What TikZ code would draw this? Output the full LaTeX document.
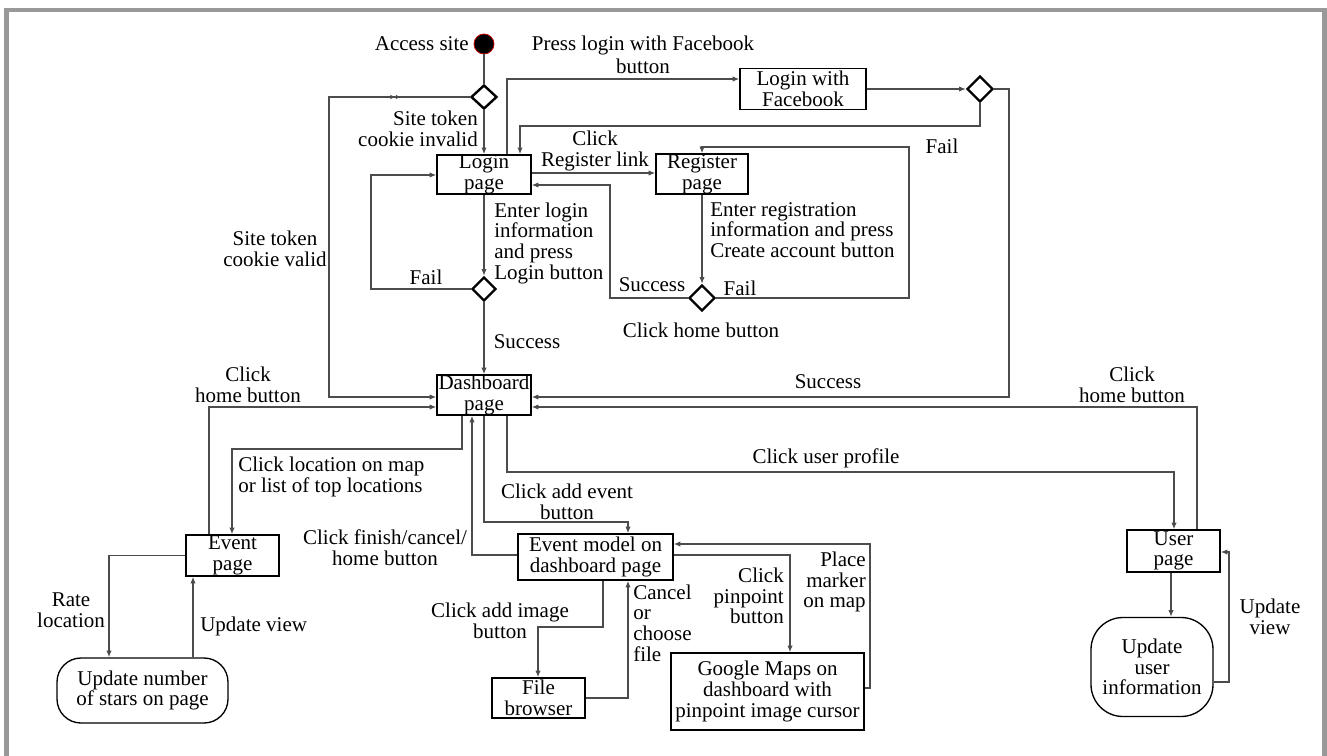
\documentclass[tikz,border=0pt]{standalone}
\usepackage{fontspec}
\setmainfont{Liberation Serif}
\usetikzlibrary{arrows.meta,shapes.geometric,decorations.markings,calc}
\begin{document}
\begin{tikzpicture}[x=0.75pt,y=-0.75pt,
  every node/.style={font=\fontsize{15.75pt}{15.5pt}\selectfont},
  sz/.style 2 args={minimum width=#1*0.75pt,minimum height=#2*0.75pt},
  box/.style={draw=black, line width=1pt, inner sep=0pt, align=center, fill=white},
  dec/.style={diamond, aspect=1, draw=black, line width=1.8pt, inner sep=0pt, fill=white},
  conn/.style={draw=black!70, line width=1.1pt},
  arr/.style={conn, -{Latex[length=5pt,width=4pt]}},
  lbl/.style={inner sep=0pt, align=center},
  lblL/.style={inner sep=0pt, align=left, anchor=west},
  lblR/.style={inner sep=0pt, align=right, anchor=east},
  frame/.style={fill=black!40, draw=none}
]
\useasboundingbox (0,0) rectangle (1327,756);
% frame
\fill[frame] (4,8) rectangle (1327,12);
\fill[frame] (4,8) rectangle (9,756);
\fill[frame] (1322,8) rectangle (1327,756);

% nodes
\node[circle, fill=black, draw=red!75!black, line width=0.6pt, minimum size=15pt, inner sep=0pt] (start) at (484,44) {};
\node[dec, sz={26}{24}] (d1) at (484,97) {};
\node[box, sz={94}{39}] (login) at (484,174.5) {Login\\page};
\node[box, sz={92}{40}] (reg) at (702,174) {Register\\page};
\node[box, sz={126}{41}] (fb) at (803,89) {Login with\\Facebook};
\node[dec, sz={26}{26}] (dfb) at (980,89) {};
\node[dec, sz={24}{24}] (dlogin) at (484,289) {};
\node[dec, sz={26}{26}] (dreg) at (702,298) {};
\node[box, sz={94}{40}] (dash) at (484,395) {Dashboard\\page};
\node[box, sz={93}{41}] (event) at (232.5,555.5) {Event\\page};
\node[box, sz={155}{46}] (evm) at (595.5,557) {Event model on\\dashboard page};
\node[box, sz={93}{40}] (file) at (538.5,698) {File\\browser};
\node[box, sz={193}{77}] (gm) at (767.5,691.5) {Google Maps on\\dashboard with\\pinpoint image cursor};
\node[box, sz={93}{42}] (user) at (1173.5,551) {User\\page};
\node[box, sz={171}{65}, rounded corners=18pt] (stars) at (142.5,690.5) {Update number\\of stars on page};
\node[box, sz={122}{99}, rounded corners=24pt] (uinfo) at (1152,667) {Update\\user\\information};

% labels
\node[lblR] (tAccess) at (469,44) {Access site};
\node[lbl] (tFbPress) at (643,55) {Press login with Facebook\\[1.5pt]button};
\node[lblR] (tInvalid) at (478,129) {Site token\\cookie invalid};
\node[lbl] (tValid) at (275,249) {Site token\\cookie valid};
\node[lbl] (tRegLink) at (595,151) {Click\\Register link};
\node[lbl] (tFbFail) at (942,146) {Fail};
\node[lblL] (tEnterLogin) at (494,243) {Enter login\\information\\and press\\Login button};
\node[lbl] (tLoginFail) at (426,277) {Fail};
\node[lbl] (tLoginOk) at (527,342) {Success};
\node[lblL] (tEnterReg) at (710,230) {Enter registration\\information and press\\Create account button};
\node[lbl] (tRegOk) at (652,285) {Success};
\node[lbl] (tRegFail) at (740,288) {Fail};
\node[lbl] (tHomeReg) at (701,330) {Click home button};
\node[lbl] (tFbOk) at (828,382) {Success};
\node[lbl] (tHomeEv) at (248,385) {Click\\home button};
\node[lblL] (tLoc) at (238,477) {Click location on map\\or list of top locations};
\node[lbl] (tFinish) at (385,548) {Click finish/cancel/\\home button};
\node[lbl] (tAddEv) at (567,502) {Click add event\\button};
\node[lbl] (tProfile) at (826,458) {Click user profile};
\node[lbl] (tAddImg) at (500,621) {Click add image\\button};
\node[lblL, align=left] (tCancel) at (633,623) {Cancel\\or\\choose\\file};
\node[lblR] (tPin) at (784,596) {Click\\pinpoint\\button};
\node[lblR] (tPlace) at (866,582) {Place\\marker\\on map};
\node[lbl] (tHomeUser) at (1132,385) {Click\\home button};
\node[lbl] (tUpdUser) at (1270,617) {Update\\view};
\node[lbl] (tRate) at (71,610) {Rate\\location};
\node[lblL] (tUpdStars) at (200,626) {Update view};

% connectors
\draw[conn] (start.south) -- (d1.north);
\draw[arr, postaction={decorate, decoration={markings,
    mark=at position 52pt with {\arrowreversed{Latex[length=3.5pt,width=3.5pt]}},
    mark=at position 56pt with {\arrowreversed{Latex[length=3.5pt,width=3.5pt]}}}}]
  (d1.west) -| (329,397) -- (dash.west |- 0,397);
\draw[arr] (d1.south) -- (login.north);
\draw[arr] (507,0 |- login.north) |- (fb.west |- 0,79);
\draw[arr] (fb.east) -- (dfb.west);
\draw[arr] (dfb.south) |- (520,126) -- (520,0 |- login.north);
\draw[arr] (dfb.east) -| (1009,397) -- (dash.east |- 0,397);
\draw[arr] (login.east |- 0,173) -- (reg.west |- 0,173);
\draw[arr] (dreg.west) -| (610,185) -- (login.east |- 0,185);
\draw[arr] (reg.south) -- (dreg.north);
\draw[arr] (dreg.east) -| (909,147) -| (reg.north);
\draw[arr] (login.south) -- (dlogin.north);
\draw[arr] (dlogin.west) -| (371,175) -- (login.west |- 0,175);
\draw[arr] (dlogin.south) -- (dash.north);
\draw[arr] (462,0 |- dash.south) |- (232,449) -- (232,0 |- event.north);
\draw[arr] (209,0 |- event.north) |- (dash.west |- 0,407);
\draw[arr] (event.west) -| (109,0 |- stars.north);
\draw[arr] (193,0 |- stars.north) -- (193,0 |- event.south);
\draw[arr] (dash.south) |- (628,522) -- (628,0 |- evm.north);
\draw[arr] (evm.west |- 0,555) -| (472,0 |- dash.south);
\draw[arr] (507,0 |- dash.south) |- (1174,472) -- (1174,0 |- user.north);
\draw[arr] (1197,0 |- user.north) |- (dash.east |- 0,407);
\draw[arr] (1171,0 |- user.south) -- (1171,0 |- uinfo.north);
\draw[arr] (uinfo.east |- 0,682) -| (1229,552) -- (user.east |- 0,552);
\draw[arr] (603,0 |- evm.south) |- (538,627) -- (538,0 |- file.north);
\draw[arr] (file.east |- 0,698) -| (628,0 |- evm.south);
\draw[arr] (evm.east |- 0,555) -| (790,0 |- gm.north);
\draw[arr] (gm.east |- 0,688) -| (870,544) -- (evm.east |- 0,544);
\end{tikzpicture}
\end{document}
